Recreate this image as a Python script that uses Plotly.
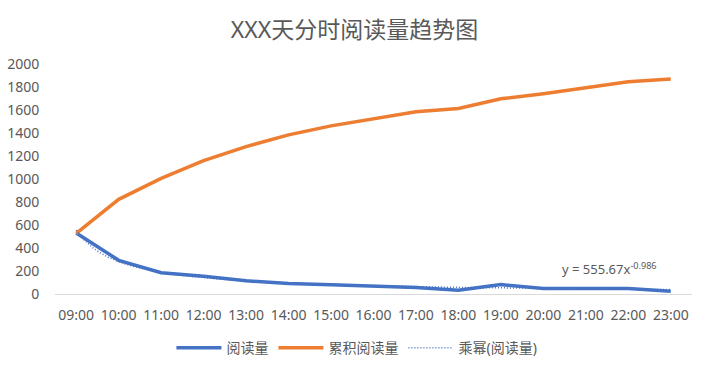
import plotly.graph_objects as go

hours = ["09:00", "10:00", "11:00", "12:00", "13:00", "14:00", "15:00", "16:00",
         "17:00", "18:00", "19:00", "20:00", "21:00", "22:00", "23:00"]
reads = [530, 293, 185, 155, 115, 92, 80, 70, 57, 33, 82, 47, 48, 48, 25]
cumulative = [528, 823, 1005, 1160, 1282, 1384, 1462, 1524, 1585, 1613, 1697, 1742, 1793, 1845, 1870]
# power trendline coefficients shown on the chart
trend_a = 555.67
trend_b = -0.986
trend_label = "y = 555.67x<sup>-0.986</sup>"

pos = list(range(1, len(hours) + 1))
trend_x = [1 + i * 0.05 for i in range(int((len(hours) - 1) / 0.05) + 1)]
trend_y = [trend_a * t ** trend_b for t in trend_x]

FONT = "Noto Sans, Noto Sans CJK SC, sans-serif"
GREY = "#595959"

fig = go.Figure()
fig.add_trace(go.Scatter(x=pos, y=reads, name="阅读量", mode="lines",
                         line=dict(color="#4472C4", width=3.5)))
fig.add_trace(go.Scatter(x=pos, y=cumulative, name="累积阅读量", mode="lines",
                         line=dict(color="#ED7D31", width=3.5)))
fig.add_trace(go.Scatter(x=trend_x, y=trend_y, name="乘幂(阅读量)", mode="lines",
                         line=dict(color="#4472C4", width=1.5, dash="1px,2px")))

fig.add_annotation(x=13.56, y=226, xref="x", yref="y", text=trend_label,
                   showarrow=False, xanchor="center", yanchor="middle",
                   font=dict(size=13, color=GREY, family=FONT))

fig.update_layout(
    width=709, height=372,
    margin=dict(l=55, r=17, t=64, b=78, autoexpand=False),
    paper_bgcolor="white", plot_bgcolor="white",
    font=dict(family=FONT, color=GREY, size=14),
    title=dict(text="XXX天分时阅读量趋势图", x=0.5, xref="container",
               y=1 - 30 / 372, yref="container",
               xanchor="center", yanchor="middle",
               font=dict(size=23, color=GREY, family=FONT)),
    showlegend=True,
    legend=dict(orientation="h", x=0.474, xanchor="center", y=-0.235,
                yanchor="middle", font=dict(size=14, color=GREY, family=FONT),
                itemwidth=45, tracegroupgap=0),
    xaxis=dict(range=[0.5, 15.5], tickvals=pos, ticktext=hours, showgrid=False,
               showline=True, linecolor="#d9d9d9", linewidth=1,
               ticks="outside", ticklen=8, tickcolor="rgba(0,0,0,0)",
               tickfont=dict(size=14, color=GREY), zeroline=False,
               automargin=False, fixedrange=True),
    yaxis=dict(range=[0, 2000], dtick=200, showgrid=False, zeroline=False,
               showline=False, ticks="outside", ticklen=12,
               tickcolor="rgba(0,0,0,0)", automargin=False,
               tickfont=dict(size=14, color=GREY), fixedrange=True),
)

fig.write_html("out.html")
